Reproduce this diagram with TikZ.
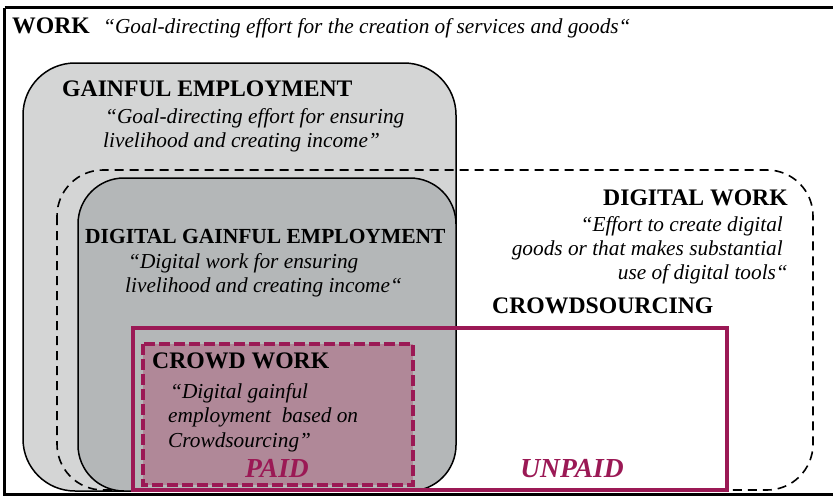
\documentclass[tikz,border=0pt]{standalone}
\usepackage{fontspec}
\setmainfont{Liberation Serif}
\definecolor{geFill}{RGB}{212,213,213}
\definecolor{dgeFill}{RGB}{180,183,184}
\definecolor{cwFill}{RGB}{176,136,152}
\definecolor{maroon}{RGB}{155,25,85}
\begin{document}
\begin{tikzpicture}[x=1pt,y=-1pt,
  hd/.style={font=\bfseries\fontsize{23.7}{28}\selectfont, inner sep=0pt, anchor=base west},
  hdr/.style={hd, anchor=base east},
  itl/.style={font=\itshape\fontsize{21.3}{25}\selectfont, inner sep=0pt, anchor=base west},
  itr/.style={itl, anchor=base east},
  pay/.style={font=\bfseries\itshape\fontsize{27.5}{30}\selectfont, text=maroon, inner sep=0pt, anchor=base},
  roundbox/.style={draw=black, line width=1.5pt},
  dwbox/.style={draw=black, line width=1.6pt, dash pattern=on 9pt off 6pt, rounded corners=46pt},
  csbox/.style={draw=maroon, line width=3.5pt},
  cwbox/.style={draw=maroon, fill=cwFill, line width=4.5pt, dash pattern=on 11pt off 4pt}
]
\useasboundingbox (0,0) rectangle (833,498);
\clip (0,0) rectangle (833,498);
\fill[white] (0,0) rectangle (833,498);

% gainful employment
\draw[roundbox, fill=geFill, rounded corners=52pt] (23,63) rectangle (456,491);
% digital work (dashed)
\draw[dwbox] (57,170) rectangle (813,490);
% digital gainful employment
\draw[roundbox, fill=dgeFill, rounded corners=46pt] (78,178) rectangle (456,491);
% crowdsourcing
\draw[csbox] (133,328) rectangle (727,490);
% crowd work
\draw[cwbox] (143,344) rectangle (413,485);

% outer frame
\draw[line width=3.5pt] (4.5,7.5) -- (900,7.5);
\draw[line width=3.5pt] (4.5,7.5) -- (4.5,494.5) -- (900,494.5);

% texts
\node[hd] (work) at (12,33) {WORK};
\node[itl] (workd) at (103,33) {“Goal-directing effort for the creation of services and goods“};

\node[hd] (ge) at (62,96) {GAINFUL EMPLOYMENT};
\node[itl] (ged1) at (105,123) {“Goal-directing effort for ensuring};
\node[itl] (ged2) at (103,147) {livelihood and creating income”};

\node[hd, font=\bfseries\fontsize{21.5}{26}\selectfont] (dge) at (85,243) {DIGITAL GAINFUL EMPLOYMENT};
\node[itl] (dged1) at (128,268) {“Digital work for ensuring};
\node[itl] (dged2) at (125,292) {livelihood and creating income“};

\node[hdr] (dw) at (788,205) {DIGITAL WORK};
\node[itr] (dwd1) at (783,231) {“Effort to create digital};
\node[itr] (dwd2) at (783,255) {goods or that makes substantial};
\node[itr] (dwd3) at (788,279) {use of digital tools“};

\node[hd] (cs) at (492,313) {CROWDSOURCING};

\node[hd] (cw) at (152,368) {CROWD WORK};
\node[itl] (cwd1) at (170,398) {“Digital gainful};
\node[itl] (cwd2) at (168,422) {employment\ \ based on};
\node[itl] (cwd3) at (168,447) {Crowdsourcing”};

\node[pay] (paid) at (277,477) {PAID};
\node[pay] (unpaid) at (572,477) {UNPAID};
\end{tikzpicture}
\end{document}
